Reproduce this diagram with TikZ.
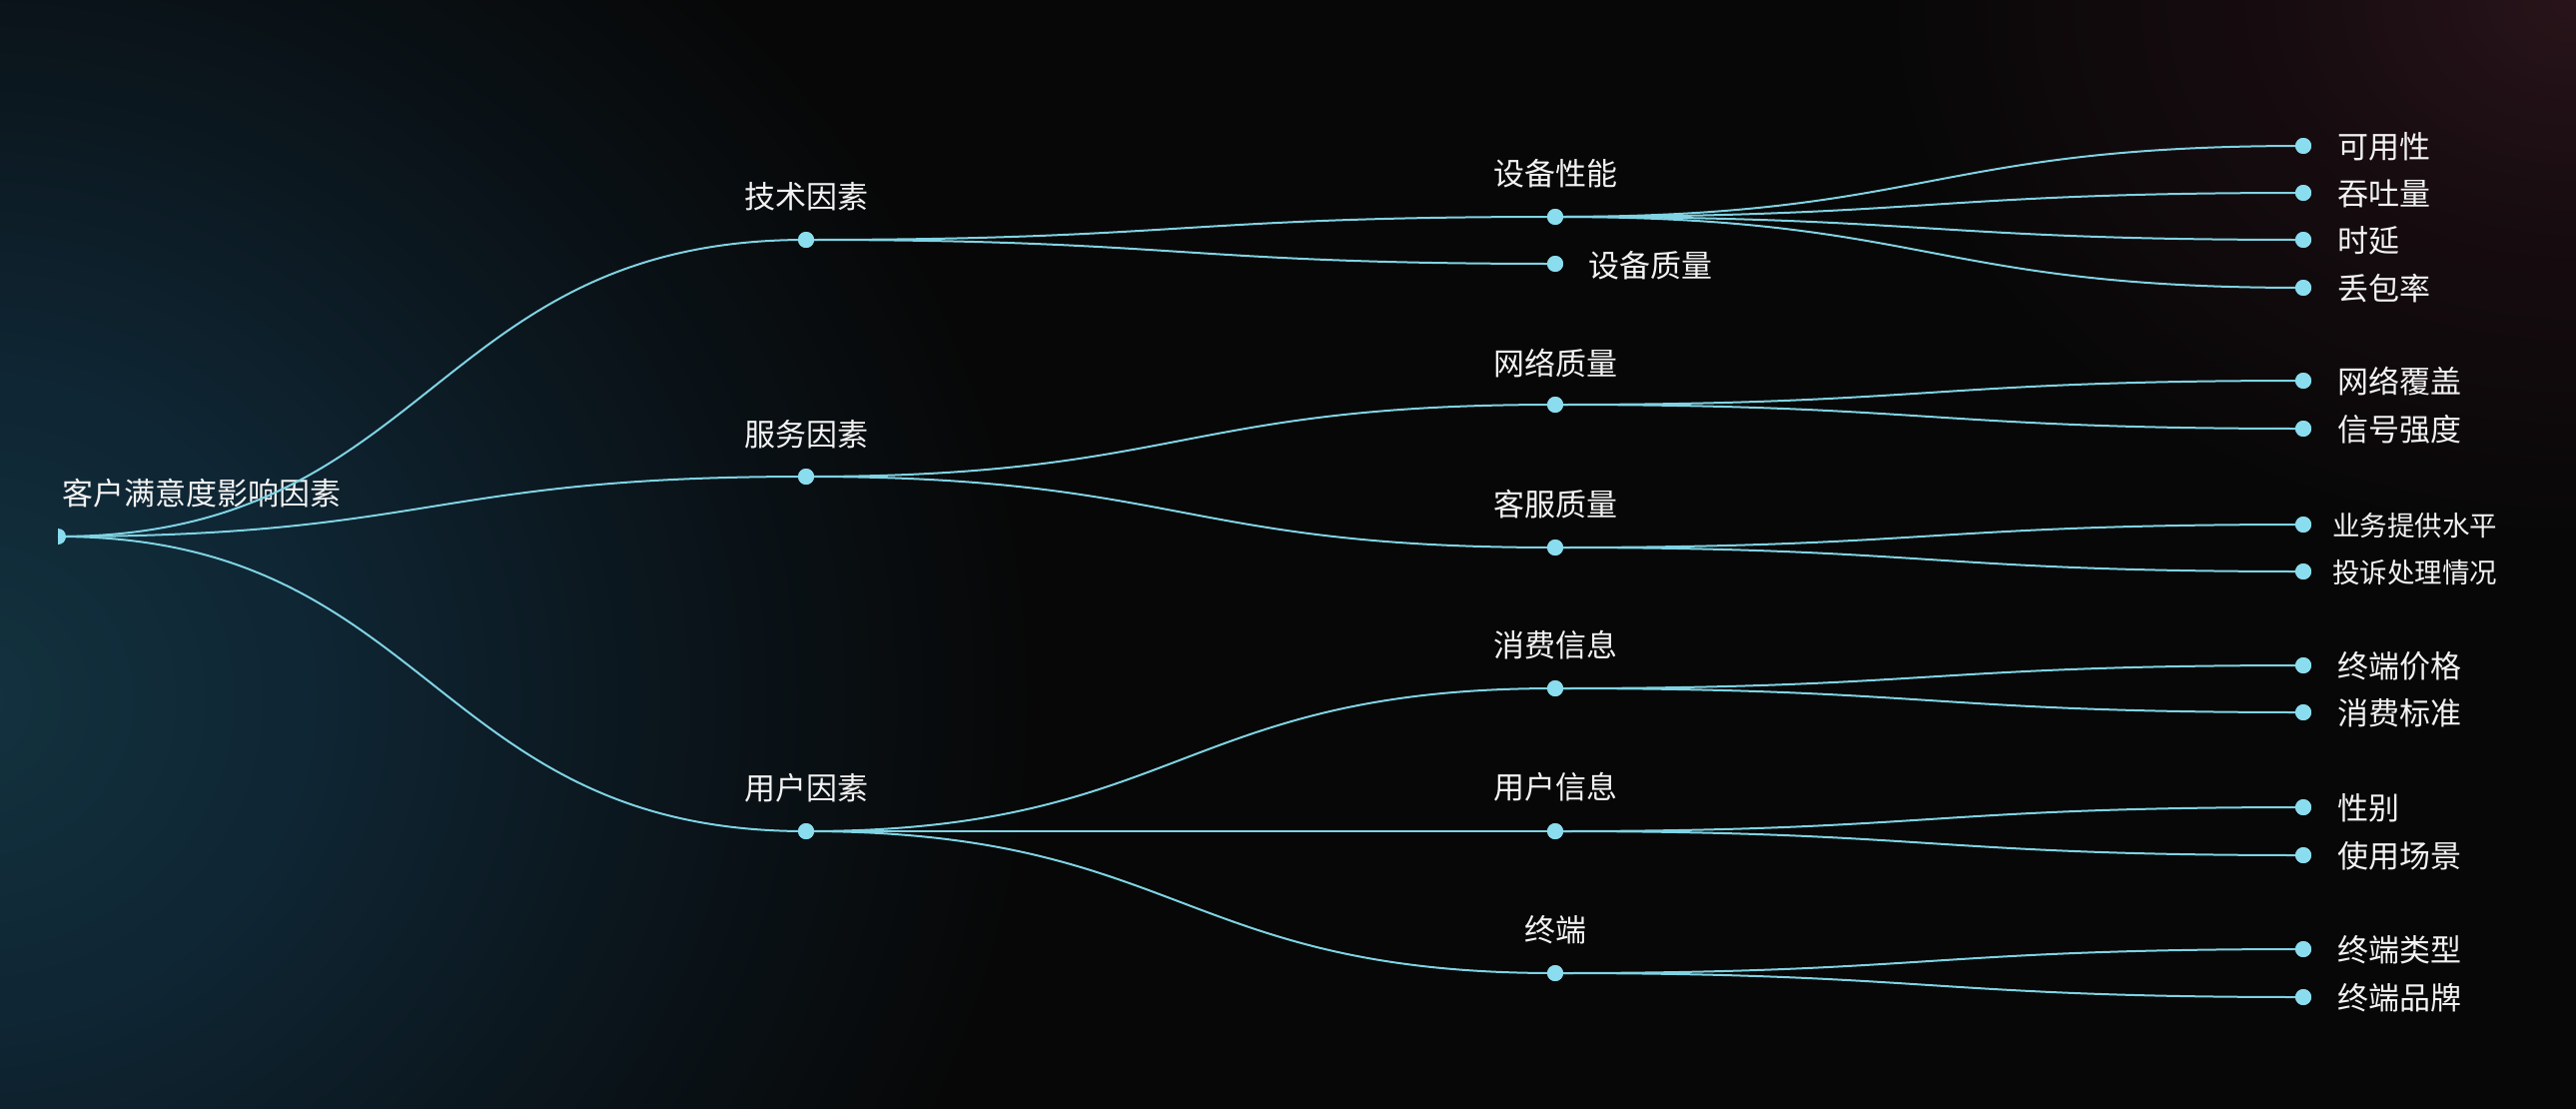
\documentclass[tikz,border=0pt]{standalone}
\usepackage{fontspec}
\setmainfont{Noto Sans CJK SC}
\definecolor{bgc}{HTML}{070707}
\definecolor{glowbA}{HTML}{13323F}
\definecolor{glowbB}{HTML}{0F2634}
\definecolor{glowbC}{HTML}{0B161D}
\definecolor{glowrA}{HTML}{28141A}
\definecolor{glowrB}{HTML}{170C10}
\definecolor{linec}{HTML}{7FD3E3}
\definecolor{dotc}{HTML}{8ADDEE}
\definecolor{txtc}{HTML}{F2F2F2}
\pgfdeclareradialshading{blueglow}{\pgfpoint{0bp}{0bp}}{color(0bp)=(glowbA); color(8bp)=(glowbB); color(16bp)=(glowbC); color(25bp)=(bgc); color(50bp)=(bgc)}
\pgfdeclareradialshading{redglow}{\pgfpoint{0bp}{0bp}}{color(0bp)=(glowrA); color(10bp)=(glowrB); color(25bp)=(bgc); color(50bp)=(bgc)}
\tikzset{
  dotnode/.style={circle, fill=dotc, minimum size=8pt, inner sep=0pt},
  conn/.style={draw=linec, line width=1pt},
  lbl/.style={text=txtc, font=\fontsize{15.5pt}{18pt}\selectfont, inner sep=0pt},
  lblsmall/.style={text=txtc, font=\fontsize{13.75pt}{16pt}\selectfont, inner sep=0pt},
}
\newcommand\linkto[2]{\draw[conn] (#1) .. controls +(375,0) and +(-375,0) .. (#2.center);}
\begin{document}
\begin{tikzpicture}[x=0.5pt, y=-0.5pt]
\useasboundingbox (0,0) rectangle (2579,1109);
\begin{scope}
\clip (-10,-10) rectangle (2589,1119);
\fill[bgc] (-10,-10) rectangle (2589,1119);
\shade[shading=blueglow] (-40,700) ellipse [x radius=540pt, y radius=500pt];
\shade[shading=redglow] (2579,0) ellipse [x radius=360pt, y radius=280pt];
\end{scope}

% root
\coordinate (root) at (58,537);
\node[lbl] (rootlbl) at (202,494) {客户满意度影响因素};

% level 1
\node[dotnode] (t) at (807,240) {};
\node[dotnode] (s) at (807,477) {};
\node[dotnode] (u) at (807,832) {};
% level 2
\node[dotnode] (t1) at (1557,217) {};
\node[dotnode] (t2) at (1557,264) {};
\node[dotnode] (s1) at (1557,405) {};
\node[dotnode] (s2) at (1557,548) {};
\node[dotnode] (u1) at (1557,689) {};
\node[dotnode] (u2) at (1557,832) {};
\node[dotnode] (u3) at (1557,974) {};
% level 3
\node[dotnode] (a1) at (2306,146) {};
\node[dotnode] (a2) at (2306,193) {};
\node[dotnode] (a3) at (2306,240) {};
\node[dotnode] (a4) at (2306,288) {};
\node[dotnode] (b1) at (2306,381) {};
\node[dotnode] (b2) at (2306,429) {};
\node[dotnode] (c1) at (2306,525) {};
\node[dotnode] (c2) at (2306,572) {};
\node[dotnode] (d1) at (2306,666) {};
\node[dotnode] (d2) at (2306,713) {};
\node[dotnode] (e1) at (2306,808) {};
\node[dotnode] (e2) at (2306,856) {};
\node[dotnode] (f1) at (2306,950) {};
\node[dotnode] (f2) at (2306,998) {};

% connectors
\linkto{root}{t}
\linkto{root}{s}
\linkto{root}{u}
\linkto{t.center}{t1}
\linkto{t.center}{t2}
\linkto{s.center}{s1}
\linkto{s.center}{s2}
\linkto{u.center}{u1}
\linkto{u.center}{u2}
\linkto{u.center}{u3}
\linkto{t1.center}{a1}
\linkto{t1.center}{a2}
\linkto{t1.center}{a3}
\linkto{t1.center}{a4}
\linkto{s1.center}{b1}
\linkto{s1.center}{b2}
\linkto{s2.center}{c1}
\linkto{s2.center}{c2}
\linkto{u1.center}{d1}
\linkto{u1.center}{d2}
\linkto{u2.center}{e1}
\linkto{u2.center}{e2}
\linkto{u3.center}{f1}
\linkto{u3.center}{f2}

% redraw dots on top of lines
\foreach \n in {t,s,u,t1,t2,s1,s2,u1,u2,u3,a1,a2,a3,a4,b1,b2,c1,c2,d1,d2,e1,e2,f1,f2}
  \fill[dotc] (\n.center) circle [radius=4pt];
\fill[dotc] (root) ++(0pt,4pt) arc[start angle=90, end angle=-90, radius=4pt] -- cycle;

% labels
\node[lbl] (tl) at (807,197) {技术因素};
\node[lbl] (sl) at (807,435) {服务因素};
\node[lbl] (ul) at (807,789) {用户因素};
\node[lbl] (t1l) at (1557,174) {设备性能};
\node[lbl, anchor=west] (t2l) at (1590,266) {设备质量};
\node[lbl] (s1l) at (1557,363) {网络质量};
\node[lbl] (s2l) at (1557,505) {客服质量};
\node[lbl] (u1l) at (1557,646) {消费信息};
\node[lbl] (u2l) at (1557,788) {用户信息};
\node[lbl] (u3l) at (1557,931) {终端};

\node[lbl, anchor=west] (a1l) at (2340,147) {可用性};
\node[lbl, anchor=west] (a2l) at (2340,194) {吞吐量};
\node[lbl, anchor=west] (a3l) at (2340,241) {时延};
\node[lbl, anchor=west] (a4l) at (2340,289) {丢包率};
\node[lbl, anchor=west] (b1l) at (2340,382) {网络覆盖};
\node[lbl, anchor=west] (b2l) at (2340,430) {信号强度};
\node[lblsmall, anchor=west] (c1l) at (2335,526) {业务提供水平};
\node[lblsmall, anchor=west] (c2l) at (2335,573) {投诉处理情况};
\node[lbl, anchor=west] (d1l) at (2340,667) {终端价格};
\node[lbl, anchor=west] (d2l) at (2340,714) {消费标准};
\node[lbl, anchor=west] (e1l) at (2340,809) {性别};
\node[lbl, anchor=west] (e2l) at (2340,857) {使用场景};
\node[lbl, anchor=west] (f1l) at (2340,951) {终端类型};
\node[lbl, anchor=west] (f2l) at (2340,999) {终端品牌};
\end{tikzpicture}
\end{document}
